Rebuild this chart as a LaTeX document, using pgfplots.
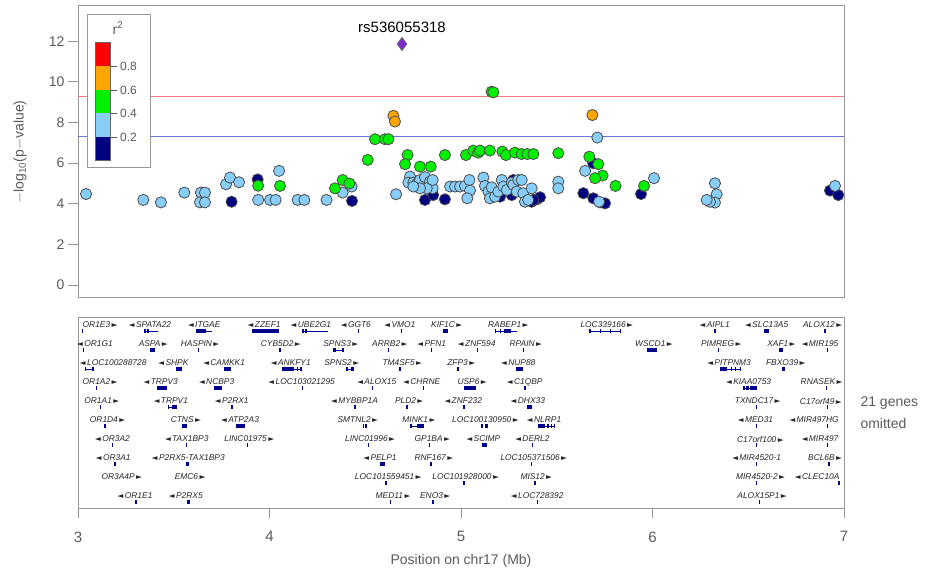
\documentclass[border=0pt]{standalone}
\usepackage{pgfplots}
\pgfplotsset{compat=1.18}
\usepackage{fontspec}
\setmainfont{Liberation Sans}
\newfontfamily\sym{DejaVu Sans}
\definecolor{lzred}{RGB}{255,0,0}
\definecolor{lzorange}{RGB}{255,165,0}
\definecolor{lzgreen}{RGB}{0,240,0}
\definecolor{lzlb}{RGB}{135,206,250}
\definecolor{lznavy}{RGB}{0,0,128}
\definecolor{lzpurple}{RGB}{125,45,205}
\definecolor{gbody}{RGB}{0,0,140}
\definecolor{axgray}{RGB}{150,150,150}
\definecolor{txgray}{RGB}{90,90,90}
\newcommand\la{{\sym\fontsize{7.5}{7.5}\selectfont ◄}\,}
\newcommand\ra{\,{\sym\fontsize{7.5}{7.5}\selectfont ►}}
\newcommand\gl[3]{\node[font=\fontsize{8.4}{8.4}\selectfont\itshape, text=black!85, inner sep=0pt] at (axis cs:#1,#2) {#3};}
\begin{document}
\begin{tikzpicture}
\useasboundingbox (0pt,0pt) rectangle (932pt,574pt);
% ---------------- association panel ----------------
\begin{axis}[
  at={(78pt,276pt)}, anchor=south west, scale only axis,
  width=766pt, height=292pt,
  xmin=3, xmax=7, ymin=-0.64, ymax=13.74,
  xtick=\empty, ytick={0,2,...,12}, ytick pos=left,
  tick align=outside, major tick length=10pt,
  axis line style={draw=axgray, line width=1pt},
  every tick/.style={draw=axgray, line width=1pt},
  yticklabel style={font=\fontsize{14}{14}\selectfont, text=txgray},
  /pgf/number format/assume math mode=true,
  clip=false,
]
\addplot[draw={rgb,255:red,245;green,120;blue,120}, line width=1pt] coordinates {(3,9.3) (7,9.3)};
\addplot[draw={rgb,255:red,100;green,120;blue,220}, line width=1pt] coordinates {(3,7.3) (7,7.3)};
% r2 < 0.2
\addplot[only marks, mark=*, mark size=5.6pt, mark options={fill=lznavy, draw=black!70, line width=0.8pt}] coordinates {
(3.802,4.10) (3.938,5.20) (4.431,4.14) (4.812,4.19) (4.855,4.43) (4.916,4.22)
(5.265,4.43) (5.395,4.22) (5.413,4.32) (5.369,4.10) (5.204,4.35) (5.273,5.17)
(5.940,4.48) (5.639,4.52) (5.691,4.27) (5.726,4.07) (5.752,4.02) (5.690,6.00)
(6.927,4.65) (6.970,4.43) (5.378,4.19)
};
% 0.2 - 0.4
\addplot[only marks, mark=*, mark size=5.6pt, mark options={fill=lzlb, draw=black!70, line width=0.8pt}] coordinates {
(3.042,4.48) (3.341,4.19) (3.433,4.07) (3.555,4.55) (3.642,4.55) (3.663,4.55)
(3.637,4.07) (3.663,4.07) (3.773,4.96) (3.794,5.29) (3.841,5.06) (3.941,4.19)
(4.050,5.62) (4.003,4.19) (4.032,4.19) (4.147,4.19) (4.182,4.19) (4.298,4.19)
(4.382,4.55) (4.429,4.85) (4.661,4.47) (4.734,5.34) (4.725,5.04) (4.751,5.04)
(4.772,5.01) (4.786,5.17) (4.812,5.31) (4.838,5.09) (4.852,4.76) (4.821,4.76)
(4.786,4.76) (4.751,4.85) (4.852,5.17) (4.943,4.85) (4.969,4.85) (4.995,4.85)
(5.021,4.88) (5.044,5.17) (5.047,4.65) (5.033,4.27) (5.117,5.29) (5.125,4.88)
(5.143,4.60) (5.151,4.27) (5.160,4.81) (5.178,4.35) (5.195,4.60) (5.213,5.17)
(5.221,4.85) (5.239,4.68) (5.265,5.04) (5.273,4.93) (5.291,4.60) (5.299,5.17)
(5.317,5.17) (5.325,4.52) (5.334,4.10) (5.351,4.19) (5.369,4.76) (5.508,5.09)
(5.508,4.76) (5.712,7.26) (5.648,5.62) (5.721,4.10) (6.008,5.26) (6.326,5.01)
(6.335,4.47) (6.326,4.06) (6.300,4.10) (6.283,4.19) (6.953,4.88)
};
% 0.4 - 0.6
\addplot[only marks, mark=*, mark size=5.6pt, mark options={fill=lzgreen, draw=black!70, line width=0.8pt}] coordinates {
(3.941,4.89) (4.055,4.88) (4.342,4.76) (4.382,5.17) (4.417,5.00) (4.513,6.16)
(4.551,7.18) (4.603,7.18) (4.621,7.18) (5.160,9.52) (5.169,9.49) (4.721,6.40)
(4.916,6.40) (5.026,6.40) (5.064,6.62) (5.090,6.52) (5.099,6.62) (5.151,6.62)
(5.216,6.57) (5.235,6.40) (5.282,6.52) (5.317,6.45) (5.346,6.45) (5.378,6.45)
(5.508,6.49) (4.708,5.95) (4.786,5.83) (4.842,5.83) (5.670,6.32) (5.717,5.95)
(5.739,5.39) (5.700,5.26) (5.807,4.88) (5.956,4.88)
};
% 0.6 - 0.8
\addplot[only marks, mark=*, mark size=5.6pt, mark options={fill=lzorange, draw=black!70, line width=0.8pt}] coordinates {
(4.647,8.33) (4.655,8.05) (5.686,8.37)
};
% index SNP
\addplot[only marks, mark=diamond*, mark size=6.5pt, mark options={fill=lzpurple, draw=black!60, line width=0.8pt}] coordinates {(4.692,11.87)};
\node[font=\fontsize{15}{15}\selectfont, text=black] at (axis cs:4.692,12.7) {rs536055318};
\end{axis}
\begin{scope}[x=1pt,y=1pt]
% legend
\draw[draw=axgray, fill=white, line width=1pt] (87,406) rectangle (150,559);
\fill[lzred] (95,532) rectangle (110,508);
\fill[lzorange] (95,508) rectangle (110,484);
\fill[lzgreen] (95,484) rectangle (110,461);
\fill[lzlb] (95,461) rectangle (110,437);
\fill[lznavy] (95,437) rectangle (110,414);
\draw[black!60, line width=0.6pt] (95,414) rectangle (110,532);
\foreach \yy/\lab in {508/0.8,484/0.6,461/0.4,437/0.2}{
  \draw[txgray, line width=0.8pt] (110,\yy) -- (117,\yy);
  \node[anchor=west, font=\fontsize{12}{12}\selectfont, text=txgray, inner sep=0pt] at (120,\yy) {\lab};
}
\node[font=\fontsize{14}{14}\selectfont, text=txgray] at (118,546) {r\textsuperscript{2}};
% y label
\node[rotate=90, font=\fontsize{14}{14}\selectfont, text=txgray] at (20,422) {$-$log\textsubscript{10}(p$-$value)};
\node[anchor=west, align=left, font=\fontsize{14}{22}\selectfont, text=txgray] at (857,161) {21 genes\\omitted};
\end{scope}
% ---------------- gene panel ----------------
\begin{axis}[
  at={(78pt,66pt)}, anchor=south west, scale only axis,
  width=766pt, height=191pt,
  xmin=3, xmax=7, ymin=0, ymax=191,
  xtick={3,4,5,6,7}, ytick=\empty, xtick pos=bottom,
  tick align=outside, major tick length=10pt,
  axis line style={draw=axgray, line width=1pt},
  every tick/.style={draw=axgray, line width=1pt},
  xticklabel style={font=\fontsize{15}{15}\selectfont, text=txgray, yshift=-10pt},
  /pgf/number format/assume math mode=true,
  xlabel={Position on chr17 (Mb)},
  xlabel style={font=\fontsize{14}{14}\selectfont, text=txgray, yshift=-5pt},
  clip=false, unbounded coords=jump,
]
% introns (thin lines)
\addplot[draw=gbody, line width=1pt, line cap=butt] coordinates {
(3.345,176.8) (3.419,176.8) (nan,nan)
(3.616,176.8) (3.698,176.8) (nan,nan)
(4.168,176.8) (4.307,176.8) (nan,nan)
(5.178,176.8) (5.291,176.8) (nan,nan)
(5.674,176.8) (5.834,176.8) (nan,nan)
(4.333,157.8) (4.389,157.8) (nan,nan)
(3.037,138.8) (3.080,138.8) (nan,nan)
(4.064,138.8) (4.168,138.8) (nan,nan)
(4.399,138.8) (4.441,138.8) (nan,nan)
(6.352,138.8) (6.460,138.8) (nan,nan)
(6.471,119.8) (6.544,119.8) (nan,nan)
(3.472,100.8) (3.515,100.8) (nan,nan)
(4.737,81.8) (4.807,81.8) (nan,nan)
(5.404,81.8) (5.491,81.8)
};
% larger exons / gene bodies
\addplot[draw=gbody, line width=4pt, line cap=butt] coordinates {
(3.345,176.8) (3.357,176.8) (nan,nan)
(3.362,176.8) (3.372,176.8) (nan,nan)
(3.616,176.8) (3.668,176.8) (nan,nan)
(3.907,176.8) (4.051,176.8) (nan,nan)
(4.168,176.8) (4.180,176.8) (nan,nan)
(4.185,176.8) (4.197,176.8) (nan,nan)
(4.904,176.8) (4.934,176.8) (nan,nan)
(5.225,176.8) (5.260,176.8) (nan,nan)
(6.582,176.8) (6.610,176.8) (nan,nan)
(3.376,157.8) (3.402,157.8) (nan,nan)
(4.333,157.8) (4.345,157.8) (nan,nan)
(4.378,157.8) (4.389,157.8) (nan,nan)
(5.970,157.8) (6.025,157.8) (nan,nan)
(6.662,157.8) (6.680,157.8) (nan,nan)
(3.512,138.8) (3.542,138.8) (nan,nan)
(3.762,138.8) (3.797,138.8) (nan,nan)
(4.064,138.8) (4.130,138.8) (nan,nan)
(4.399,138.8) (4.410,138.8) (nan,nan)
(4.428,138.8) (4.441,138.8) (nan,nan)
(5.287,138.8) (5.325,138.8) (nan,nan)
(6.352,138.8) (6.390,138.8) (nan,nan)
(3.414,119.8) (3.463,119.8) (nan,nan)
(3.710,119.8) (3.750,119.8) (nan,nan)
(5.016,119.8) (5.078,119.8) (nan,nan)
(6.471,119.8) (6.483,119.8) (nan,nan)
(6.490,119.8) (6.502,119.8) (nan,nan)
(6.510,119.8) (6.544,119.8) (nan,nan)
(3.490,100.8) (3.515,100.8) (nan,nan)
(5.343,100.8) (5.369,100.8) (nan,nan)
(3.542,81.8) (3.568,81.8) (nan,nan)
(3.825,81.8) (3.872,81.8) (nan,nan)
(4.770,81.8) (4.807,81.8) (nan,nan)
(5.125,81.8) (5.143,81.8) (nan,nan)
(5.404,81.8) (5.439,81.8) (nan,nan)
(5.108,62.8) (5.124,62.8) (nan,nan)
(3.564,43.8) (3.581,43.8) (nan,nan)
(4.577,43.8) (4.603,43.8) (nan,nan)
(3.568,5.8) (3.585,5.8)
};
% small gene bodies (ticks)
\addplot[only marks, mark=|, mark size=2.2pt, mark options={draw=gbody, line width=1.3pt}] table[x=x, y=y] {
x y
3.022 176.8
4.464 176.8
4.690 176.8
5.180 176.8
5.207 176.8
5.674 176.8
5.727 176.8
5.782 176.8
5.832 176.8
6.326 176.8
6.901 176.8
3.028 157.8
3.628 157.8
4.053 157.8
4.057 157.8
4.620 157.8
4.847 157.8
5.085 157.8
5.325 157.8
6.344 157.8
6.915 157.8
3.040 138.8
3.078 138.8
3.474 100.8
4.147 138.8
4.165 138.8
4.681 138.8
4.984 138.8
4.988 138.8
6.412 138.8
6.432 138.8
6.458 138.8
6.682 138.8
6.686 138.8
3.098 119.8
4.171 119.8
4.539 119.8
4.803 119.8
5.334 119.8
6.909 119.8
3.119 100.8
3.800 100.8
3.808 100.8
4.444 100.8
4.448 100.8
4.714 100.8
4.718 100.8
5.013 100.8
5.019 100.8
6.544 100.8
6.913 100.8
3.141 81.8
4.490 81.8
4.500 81.8
4.507 81.8
4.739 81.8
5.110 81.8
5.452 81.8
5.456 81.8
5.472 81.8
5.489 81.8
6.544 81.8
6.913 81.8
3.181 62.8
3.568 62.8
3.884 62.8
4.516 62.8
4.835 62.8
5.131 62.8
5.374 62.8
6.544 62.8
6.913 62.8
3.193 43.8
4.843 43.8
5.369 43.8
6.544 43.8
6.921 43.8
6.925 43.8
4.608 24.8
5.016 24.8
5.386 24.8
6.544 24.8
6.974 24.8
3.303 5.8
4.633 5.8
4.852 5.8
4.855 5.8
5.399 5.8
6.558 5.8
};
% row 1
\gl{3.115}{183}{OR1E3\ra}
\gl{3.376}{183}{\la SPATA22}
\gl{3.659}{183}{\la ITGAE}
\gl{3.972}{183}{\la ZZEF1}
\gl{4.216}{183}{\la UBE2G1}
\gl{4.451}{183}{\la GGT6}
\gl{4.681}{183}{\la VMO1}
\gl{4.925}{183}{KIF1C\ra}
\gl{5.247}{183}{RABEP1\ra}
\gl{5.761}{183}{LOC339166\ra}
\gl{6.325}{183}{\la AIPL1}
\gl{6.596}{183}{\la SLC13A5}
\gl{6.888}{183}{ALOX12\ra}
% row 2
\gl{3.089}{164}{\la OR1G1}
\gl{3.393}{164}{ASPA\ra}
\gl{3.637}{164}{HASPIN\ra}
\gl{4.059}{164}{CYB5D2\ra}
\gl{4.372}{164}{SPNS3\ra}
\gl{4.628}{164}{ARRB2\ra}
\gl{4.847}{164}{\la PFN1}
\gl{5.082}{164}{\la ZNF594}
\gl{5.338}{164}{RPAIN\ra}
\gl{6.007}{164}{WSCD1\ra}
\gl{6.359}{164}{PIMREG\ra}
\gl{6.673}{164}{XAF1\ra}
\gl{6.875}{164}{\la MIR195}
% row 3
\gl{3.184}{145}{\la LOC100288728}
\gl{3.498}{145}{\la SHPK}
\gl{3.763}{145}{\la CAMKK1}
\gl{4.111}{145}{\la ANKFY1}
\gl{4.377}{145}{SPNS2\ra}
\gl{4.693}{145}{TM4SF5\ra}
\gl{5.001}{145}{ZFP3\ra}
\gl{5.299}{145}{\la NUP88}
\gl{6.400}{145}{\la PITPNM3}
\gl{6.696}{145}{FBXO39\ra}
% row 4
\gl{3.115}{126}{OR1A2\ra}
\gl{3.432}{126}{\la TRPV3}
\gl{3.724}{126}{\la NCBP3}
\gl{4.168}{126}{\la LOC103021295}
\gl{4.560}{126}{\la ALOX15}
\gl{4.795}{126}{\la CHRNE}
\gl{5.058}{126}{USP6\ra}
\gl{5.333}{126}{\la C1QBP}
\gl{6.502}{126}{\la KIAA0753}
\gl{6.883}{126}{RNASEK\ra}
% row 5
\gl{3.124}{107}{OR1A1\ra}
\gl{3.485}{107}{\la TRPV1}
\gl{3.803}{107}{\la P2RX1}
\gl{4.444}{107}{\la MYBBP1A}
\gl{4.729}{107}{PLD2\ra}
\gl{5.012}{107}{\la ZNF232}
\gl{5.349}{107}{\la DHX33}
\gl{6.549}{107}{TXNDC17\ra}
\gl{6.879}{107}{C17orf49\ra}
% row 6
\gl{3.154}{88}{OR1D4\ra}
\gl{3.563}{88}{CTNS\ra}
\gl{3.846}{88}{\la ATP2A3}
\gl{4.461}{88}{SMTNL2\ra}
\gl{4.780}{88}{MINK1\ra}
\gl{5.127}{88}{LOC100130950\ra}
\gl{5.434}{88}{\la NLRP1}
\gl{6.538}{88}{\la MED31}
\gl{6.844}{88}{\la MIR497HG}
% row 7
\gl{3.180}{69}{\la OR3A2}
\gl{3.568}{69}{\la TAX1BP3}
\gl{3.894}{69}{LINC01975\ra}
\gl{4.525}{69}{LINC01996\ra}
\gl{4.850}{69}{GP1BA\ra}
\gl{5.117}{69}{\la SCIMP}
\gl{5.373}{69}{\la DERL2}
\gl{6.563}{69}{C17orf100\ra}
\gl{6.875}{69}{\la MIR497}
% row 8
\gl{3.184}{50}{\la OR3A1}
\gl{3.576}{50}{\la P2RX5-TAX1BP3}
\gl{4.577}{50}{\la PELP1}
\gl{4.858}{50}{RNF167\ra}
\gl{5.380}{50}{LOC105371506\ra}
\gl{6.544}{50}{\la MIR4520-1}
\gl{6.901}{50}{BCL6B\ra}
% row 9
\gl{3.228}{31}{OR3A4P\ra}
\gl{3.585}{31}{EMC6\ra}
\gl{4.620}{31}{LOC101559451\ra}
\gl{5.024}{31}{LOC101928000\ra}
\gl{5.393}{31}{MIS12\ra}
\gl{6.564}{31}{MIR4520-2\ra}
\gl{6.860}{31}{\la CLEC10A}
% row 10
\gl{3.298}{12}{\la OR1E1}
\gl{3.563}{12}{\la P2RX5}
\gl{4.645}{12}{MED11\ra}
\gl{4.865}{12}{ENO3\ra}
\gl{5.398}{12}{\la LOC728392}
\gl{6.572}{12}{ALOX15P1\ra}
\end{axis}
\end{tikzpicture}
\end{document}
